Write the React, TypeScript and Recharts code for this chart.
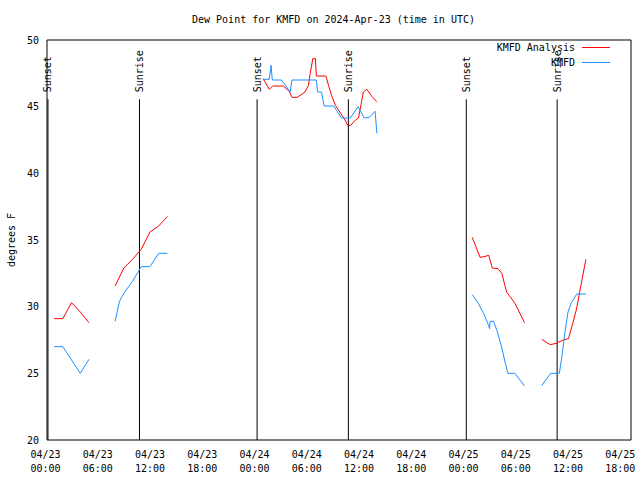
import { LineChart, Line, XAxis, YAxis, ReferenceLine } from 'recharts';

// hours since 04/23 00:00 UTC, dew point in F
const analysisSeg1 = [[1.0, 29.1], [2.0, 29.1], [3.0, 30.3], [4.0, 29.6], [5.0, 28.8]];
const analysisSeg2 = [[8.0, 31.55], [9.0, 32.9], [10.0, 33.55], [11.0, 34.3], [12.0, 35.6], [13.0, 36.05], [14.0, 36.75]];
const analysisSeg3 = [
    [25.0, 47.1], [25.7, 46.3], [26.1, 46.55], [27.3, 46.55], [28.0, 46.15], [28.3, 45.7], [28.9, 45.7],
    [29.8, 46.1], [30.2, 46.6], [30.4, 47.5], [30.7, 48.6], [31.0, 48.6], [31.1, 47.3], [32.2, 47.3],
    [32.5, 46.6], [32.9, 45.75], [33.3, 45.1], [33.8, 44.6], [34.4, 44.0], [34.7, 43.6], [35.05, 43.6],
    [35.6, 44.0], [35.95, 44.15], [36.5, 46.1], [36.9, 46.3], [37.5, 45.75], [38.05, 45.37]
];
const analysisSeg4 = [
    [49.0, 35.2], [49.9, 33.7], [50.35, 33.75], [50.9, 33.85], [51.3, 32.9], [51.95, 32.85], [52.4, 32.5],
    [52.95, 31.1], [53.35, 30.75], [53.9, 30.25], [54.4, 29.6], [55.0, 28.8]
];
const analysisSeg5 = [
    [57.0, 27.55], [57.95, 27.15], [58.65, 27.25], [59.45, 27.5], [60.05, 27.6], [60.55, 28.75],
    [61.0, 29.9], [61.45, 31.5], [62.05, 33.55]
];

const obsSeg1 = [[1.0, 27.0], [2.0, 27.0], [3.0, 26.0], [4.0, 25.0], [5.0, 26.05]];
const obsSeg2 = [[8.0, 28.9], [8.5, 30.4], [9.0, 31.0], [10.0, 31.9], [11.0, 33.0], [12.0, 33.0], [13.0, 34.0], [14.0, 34.0]];
const obsSeg3 = [
    [25.0, 47.05], [25.7, 47.05], [25.9, 48.1], [26.05, 47.0], [27.1, 47.0], [28.1, 46.1], [28.3, 47.0],
    [31.1, 47.0], [31.25, 46.1], [31.7, 46.1], [32.0, 45.05], [33.1, 45.05], [34.0, 44.15], [35.0, 44.15],
    [35.9, 45.0], [36.6, 44.15], [37.2, 44.2], [37.85, 44.65], [37.95, 43.85], [38.05, 43.0]
];
const obsSeg4 = [
    [49.0, 30.9], [49.7, 30.25], [50.3, 29.5], [50.85, 28.65], [51.0, 28.35], [51.05, 28.9], [51.45, 28.9],
    [51.9, 28.1], [52.4, 26.9], [52.8, 25.75], [53.1, 25.0], [53.9, 25.0], [55.0, 24.05]
];
const obsSeg5 = [
    [57.0, 24.1], [58.0, 25.0], [59.0, 25.0], [59.3, 26.25], [59.65, 28.1], [60.0, 29.6], [60.35, 30.25],
    [61.0, 30.95], [62.05, 30.95]
];

const sunsetHours = [0.29, 24.3, 48.32];
const sunriseHours = [10.8, 34.78, 58.75];

const yTicks = [20, 25, 30, 35, 40, 45, 50];
const xMajor = [0, 6, 12, 18, 24, 30, 36, 42, 48, 54, 60, 66];
const xMinor = [0, 2, 4, 8, 10, 14, 16, 20, 22, 26, 28, 32, 34, 38, 40, 44, 46, 50, 52, 56, 58, 62, 64];

const X_DOMAIN = [0.18, 67.23];
const Y_DOMAIN = [20, 50];
const FONT = '"DejaVu Sans Mono", monospace';

function toSeries(segs: number[][][]) {
    const out: { h: number; v: number | null }[] = [];
    segs.forEach((seg, i) => {
        if (i > 0) {
            const prev = segs[i - 1];
            out.push({ h: (prev[prev.length - 1][0] + seg[0][0]) / 2, v: null });
        }
        seg.forEach(([h, v]) => out.push({ h, v }));
    });
    return out;
}

const analysis = toSeries([analysisSeg1, analysisSeg2, analysisSeg3, analysisSeg4, analysisSeg5]);
const observed = toSeries([obsSeg1, obsSeg2, obsSeg3, obsSeg4, obsSeg5]);

function DateTick(props: any) {
    const { x, y, payload } = props;
    const h = payload.value;
    const day = 23 + Math.floor(h / 24);
    const hh = String(h % 24).padStart(2, '0');
    return (
        <text x={x} y={y} textAnchor="middle" fontFamily={FONT} fontSize={10} fill="#000">
            <tspan x={x} dy={10}>{`04/${day}`}</tspan>
            <tspan x={x} dy={14}>{`${hh}:00`}</tspan>
        </text>
    );
}

const sunLabel = (text: string) => (props: any) => {
    const vb = props.viewBox;
    const x = vb.x;
    const y = vb.y - 7;
    return (
        <text x={x} y={y} transform={`rotate(-90, ${x}, ${y})`} textAnchor="start" dominantBaseline="central"
            fontFamily={FONT} fontSize={10} fill="#000">{text}</text>
    );
};

export default function App() {
    const txt = { fontFamily: FONT, fontSize: 10, color: '#000', lineHeight: '10px', position: 'absolute' as const, whiteSpace: 'nowrap' as const };
    const tickStroke = { stroke: '#000' };
    return (
        <div style={{ position: 'absolute', left: 0, top: 0, width: 640, height: 480, background: '#fff' }}>
            <LineChart width={640} height={480} margin={{ top: 40, right: 9, bottom: 0, left: 0 }}>
                <XAxis xAxisId="b" type="number" dataKey="h" domain={X_DOMAIN} allowDataOverflow ticks={xMajor}
                    interval={0} tick={<DateTick />} tickLine={false} height={40} axisLine={tickStroke} />
                <XAxis xAxisId="bMaj" type="number" dataKey="h" domain={X_DOMAIN} allowDataOverflow ticks={xMajor}
                    interval={0} tick={false} mirror height={1} tickSize={5} tickLine={tickStroke} axisLine={false} />
                <XAxis xAxisId="bMin" type="number" dataKey="h" domain={X_DOMAIN} allowDataOverflow ticks={xMinor}
                    interval={0} tick={false} mirror height={1} tickSize={3} tickLine={tickStroke} axisLine={false} />
                <XAxis xAxisId="tMaj" orientation="top" type="number" dataKey="h" domain={X_DOMAIN} allowDataOverflow ticks={xMajor}
                    interval={0} tick={false} mirror height={1} tickSize={5} tickLine={tickStroke} axisLine={tickStroke} />
                <XAxis xAxisId="tMin" orientation="top" type="number" dataKey="h" domain={X_DOMAIN} allowDataOverflow ticks={xMinor}
                    interval={0} tick={false} mirror height={1} tickSize={3} tickLine={tickStroke} axisLine={false} />
                <YAxis yAxisId="l" type="number" domain={Y_DOMAIN} allowDataOverflow ticks={yTicks} interval={0} width={47}
                    tickLine={false} tickMargin={2} axisLine={tickStroke}
                    tick={{ fontFamily: FONT, fontSize: 10, fill: '#000' }} />
                <YAxis yAxisId="lIn" type="number" domain={Y_DOMAIN} allowDataOverflow ticks={yTicks} interval={0} width={1}
                    mirror tick={false} tickSize={5} tickLine={tickStroke} axisLine={false} />
                <YAxis yAxisId="rIn" orientation="right" type="number" domain={Y_DOMAIN} allowDataOverflow ticks={yTicks} interval={0} width={1}
                    mirror tick={false} tickSize={5} tickLine={tickStroke} axisLine={tickStroke} />

                {sunsetHours.map((h) => (
                    <ReferenceLine key={`ss${h}`} xAxisId="b" yAxisId="l" segment={[{ x: h, y: 20 }, { x: h, y: 45.55 }]}
                        stroke="#000" strokeWidth={1} ifOverflow="visible" label={sunLabel('Sunset')} />
                ))}
                {sunriseHours.map((h) => (
                    <ReferenceLine key={`sr${h}`} xAxisId="b" yAxisId="l" segment={[{ x: h, y: 20 }, { x: h, y: 45.55 }]}
                        stroke="#000" strokeWidth={1} ifOverflow="visible" label={sunLabel('Sunrise')} />
                ))}

                <Line xAxisId="b" yAxisId="l" data={analysis} dataKey="v" type="linear" stroke="#ff0000" strokeWidth={1}
                    dot={false} activeDot={false} connectNulls={false} isAnimationActive={false} />
                <Line xAxisId="b" yAxisId="l" data={observed} dataKey="v" type="linear" stroke="#1e90ff" strokeWidth={1}
                    dot={false} activeDot={false} connectNulls={false} isAnimationActive={false} />
            </LineChart>

            <div style={{ ...txt, left: 192, top: 15 }}>Dew Point for KMFD on 2024-Apr-23 (time in UTC)</div>
            <div style={{ ...txt, left: 12, top: 240, transform: 'translate(-50%, -50%) rotate(-90deg)' }}>degrees F</div>

            <div style={{ ...txt, right: 65, top: 43, textAlign: 'right' }}>KMFD Analysis</div>
            <div style={{ position: 'absolute', left: 582, top: 47, width: 28, height: 1, background: '#ff0000' }} />
            <div style={{ ...txt, right: 65, top: 58, textAlign: 'right' }}>KMFD</div>
            <div style={{ position: 'absolute', left: 582, top: 62, width: 28, height: 1, background: '#1e90ff' }} />
        </div>
    );
}
